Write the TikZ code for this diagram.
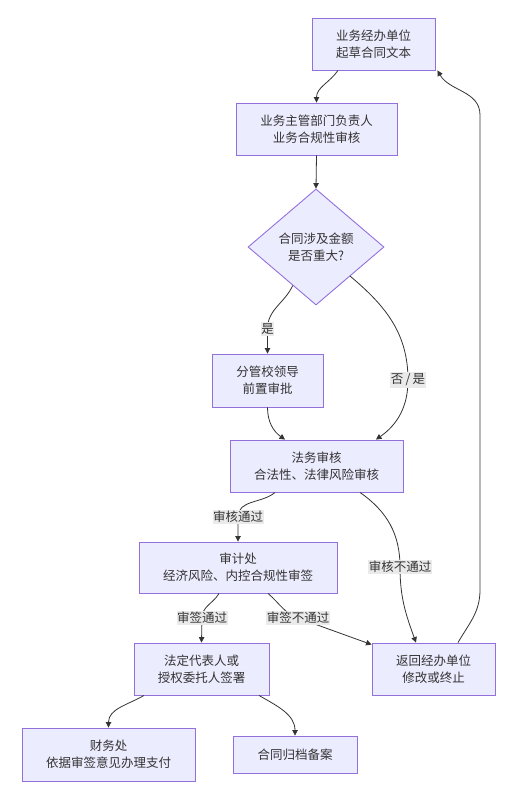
\documentclass[tikz,border=0pt]{standalone}
\usepackage{fontspec}
\usepackage{tikz}
\usepackage{xcolor}
\usetikzlibrary{shapes.geometric, arrows.meta, positioning, calc}

\newfontfamily\cjk{Noto Sans CJK SC}
\definecolor{boxfill}{HTML}{ECECFF}
\definecolor{boxline}{HTML}{9370DB}
\definecolor{inkgray}{HTML}{333333}
\definecolor{lblfill}{HTML}{EAEAEA}

\begin{document}
\begin{tikzpicture}[
  x=1pt, y=-1pt,
  procbox/.style={draw=boxline, fill=boxfill, line width=0.9pt, inner sep=0pt, align=center,
    text=inkgray, font=\cjk\fontsize{12.5}{17}\selectfont},
  decbox/.style={procbox, diamond, aspect=1.17, minimum width=136pt, minimum height=116pt},
  edgelbl/.style={fill=lblfill, inner xsep=0.5pt, inner ysep=1.5pt, text=inkgray,
    font=\cjk\fontsize{12.5}{15}\selectfont},
  flowline/.style={draw=inkgray, line width=0.8pt, -{Triangle[length=5.5pt, width=5.5pt]}},
]
\useasboundingbox (0,0) rectangle (517,801);

% --- boxes ---
\node[procbox, minimum width=123pt, minimum height=52pt] (A) at (373.5, 44) {业务经办单位\\起草合同文本};
\node[procbox, minimum width=161pt, minimum height=52pt] (B) at (316.5, 129) {业务主管部门负责人\\业务合规性审核};
\node[decbox] (C) at (316, 247) {合同涉及金额\\是否重大?};
\node[procbox, minimum width=111pt, minimum height=53pt] (D) at (267.5, 380.5) {分管校领导\\前置审批};
\node[procbox, minimum width=173pt, minimum height=52pt] (E) at (316.5, 466) {法务审核\\合法性、法律风险审核};
\node[procbox, minimum width=198pt, minimum height=51pt] (F) at (238, 567.5) {审计处\\经济风险、内控合规性审签};
\node[procbox, minimum width=135pt, minimum height=52pt] (G) at (201.5, 669) {法定代表人或\\授权委托人签署};
\node[procbox, minimum width=123pt, minimum height=52pt] (H) at (433.5, 669) {返回经办单位\\修改或终止};
\node[procbox, minimum width=173pt, minimum height=53pt] (I) at (108.5, 754.5) {财务处\\依据审签意见办理支付};
\node[procbox, minimum width=124pt, minimum height=37pt] (J) at (295, 754.5) {合同归档备案};

% --- label points and bends ---
\coordinate (q1) at (267.5, 329);
\coordinate (q2) at (408, 380);
\coordinate (q3) at (238, 517);
\coordinate (q4) at (400, 567);
\coordinate (q5) at (202, 618);
\coordinate (q6) at (298, 618);
\coordinate (r1) at (480, 590);
\coordinate (r2) at (480, 115);

% --- connectors ---
\draw[flowline] ([xshift=-35.5pt]A.south) to[out=-125, in=90] (B.north);
\draw[flowline] (B.south) -- (C.north);
\draw[flowline] ($(C.south)!0.34!(C.west)$) to[out=-115, in=90] (q1) node[edgelbl] {是} -- (D.north);
\draw[flowline] (C.south east) to[out=-40, in=90] (q2) node[edgelbl] {否\,/\,是} to[out=-90, in=35] ([xshift=59.5pt]E.north);
\draw[flowline] (D.south) to[out=-90, in=145] ([xshift=-31.5pt]E.north);
\draw[flowline] ([xshift=-41.5pt]E.south) to[out=-140, in=90] (q3) node[edgelbl] {审核通过} -- (F.north);
\draw[flowline] ([xshift=43.5pt]E.south) to[out=-35, in=90] (q4) node[edgelbl] {审核不通过} to[out=-90, in=110] ([xshift=-17.5pt]H.north);
\draw[flowline] ([xshift=-19pt]F.south) to[out=-120, in=90] (q5) node[edgelbl] {审签通过} -- (G.north);
\draw[flowline] ([xshift=30pt]F.south) to[out=-40, in=160] (q6) node[edgelbl] {审签不通过} -- ([yshift=-2pt]H.north west);
\draw[flowline] ([xshift=24.5pt]H.north) to[out=60, in=-90] (r1) -- (r2) to[out=90, in=-60] ([xshift=2pt]A.south east);
\draw[flowline] ([xshift=-57.5pt]G.south) to[out=-150, in=90] (I.north);
\draw[flowline] ([xshift=57.5pt]G.south) to[out=-30, in=90] (J.north);

\end{tikzpicture}
\end{document}
